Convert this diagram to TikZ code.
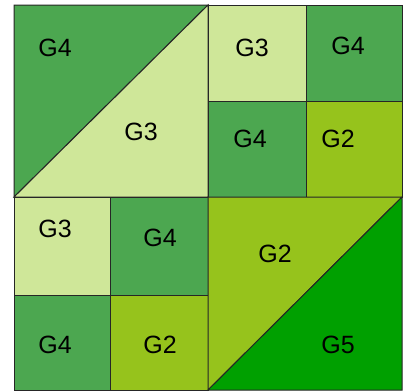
\documentclass[tikz,border=0pt]{standalone}
\usepackage{fontspec}
\setsansfont{Liberation Sans}
\usetikzlibrary{positioning}
\definecolor{gfour}{RGB}{76,167,80}
\definecolor{gthree}{RGB}{207,231,153}
\definecolor{gtwo}{RGB}{150,195,28}
\definecolor{gfive}{RGB}{0,160,0}
\tikzset{
    patch/.style = {draw=black!85, line width=1pt, line join=miter},
    pfour/.style = {patch, fill=gfour},
    pthree/.style = {patch, fill=gthree},
    ptwo/.style = {patch, fill=gtwo},
    pfive/.style = {patch, fill=gfive},
    lbl/.style = {font=\sffamily\fontsize{25}{25}\selectfont, inner sep=0pt}
}

\begin{document}
\begin{tikzpicture}[x=1pt,y=-1pt]
\useasboundingbox (0,0) rectangle (406,391);
% top left quadrant
\draw[pfour] (14,5) -- (208,5) -- (14,197) -- cycle;
\draw[pthree] (208,5) -- (208,197) -- (14,197) -- cycle;
% top right quadrant
\draw[pthree] (208,5) rectangle (306,101);
\draw[pfour] (306,5) rectangle (402,101);
\draw[pfour] (208,101) rectangle (306,197);
\draw[ptwo] (306,101) rectangle (402,197);
% bottom left quadrant
\draw[pthree] (14,197) rectangle (110,295);
\draw[pfour] (110,197) rectangle (208,295);
\draw[pfour] (14,295) rectangle (110,390);
\draw[ptwo] (110,295) rectangle (208,390);
% bottom right quadrant
\draw[ptwo] (208,197) -- (402,197) -- (208,390) -- cycle;
\draw[pfive] (402,197) -- (402,390) -- (208,390) -- cycle;
%
\node[lbl] at (55,48) (tl4) {G4};
\node[lbl] at (141,132) (tl3) {G3};
\node[lbl] at (252,48) (tr3) {G3};
\node[lbl] at (348,46) (tr4a) {G4};
\node[lbl] at (250,139) (tr4b) {G4};
\node[lbl] at (338,139) (tr2) {G2};
\node[lbl] at (55,229) (bl3) {G3};
\node[lbl] at (160,238) (bl4a) {G4};
\node[lbl] at (55,345) (bl4b) {G4};
\node[lbl] at (160,345) (bl2) {G2};
\node[lbl] at (275,254) (br2) {G2};
\node[lbl] at (338,345) (br5) {G5};
\end{tikzpicture}
\end{document}
